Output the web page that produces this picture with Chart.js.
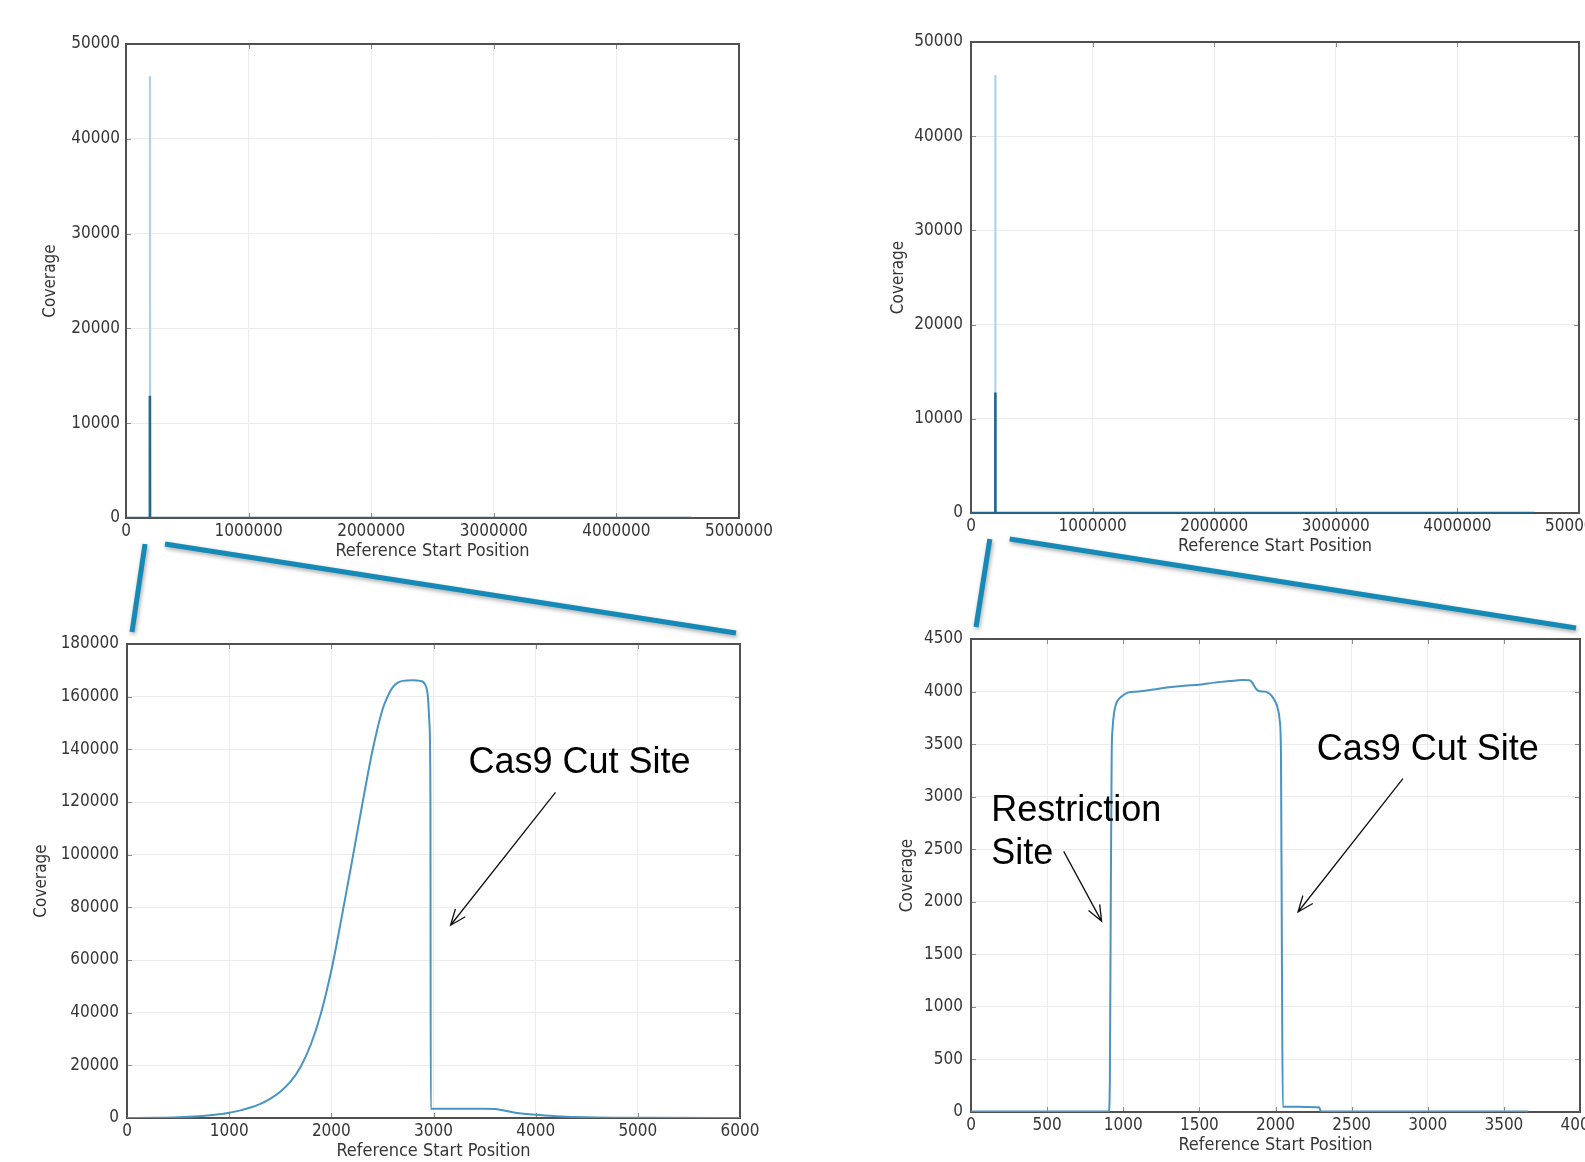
<!DOCTYPE html>
<html><head><meta charset="utf-8">
<script src="https://cdn.jsdelivr.net/npm/chart.js@4.4.1/dist/chart.umd.min.js"></script>
<style>
html,body{margin:0;padding:0;width:1585px;height:1162px;overflow:hidden;background:#fff;}
canvas{position:absolute;display:block;}
</style></head><body>
<canvas id="c1"></canvas><canvas id="c2"></canvas><canvas id="c3"></canvas><canvas id="c4"></canvas>
<canvas id="overlay" width="1585" height="1162" style="left:0;top:0;pointer-events:none"></canvas>
<script>
// ---------------- DATA ----------------
// Genome-wide tick labels (top panels)
const genomeTicksX = [0, 1000000, 2000000, 3000000, 4000000, 5000000];
const genomeTickLabelsX = ['0', '1000000', '2000000', '3000000', '4000000', '5000000'];
const genomeTicksY = [0, 10000, 20000, 30000, 40000, 50000];
const genomeTickLabelsY = ['0', '10000', '20000', '30000', '40000', '50000'];

// Top-left: genome-wide coverage (Cas9 only)
const leftGenomePos   = [0, 194000, 195000, 196000, 4615000];
const leftGenomePeak  = [0, 0, 46600, 0, 0];
const leftGenomeDense = [0, 0, 12900, 0, 0];

// Top-right: genome-wide coverage (restriction + Cas9)
const rightGenomePos   = [0, 199000, 200000, 201000, 4630000];
const rightGenomePeak  = [0, 0, 46500, 0, 0];
const rightGenomeDense = [0, 0, 12800, 0, 0];

// Bottom-left: zoomed coverage, Cas9 cut site
const cas9Pos = [0, 300, 500, 700, 900, 1000, 1100, 1200, 1300, 1400, 1500, 1600, 1700, 1800, 1900, 2000,
  2100, 2200, 2300, 2400, 2500, 2550, 2600, 2650, 2700, 2800, 2870, 2920, 2945, 2960, 2970, 2973,
  3300, 3500, 3600, 3800, 4000, 4200, 4500, 5000, 6000];
const cas9Cov = [0, 100, 300, 700, 1400, 2000, 2800, 3900, 5300, 7300, 10000, 13800, 19500, 28000, 40000, 56000,
  76000, 97000, 118500, 139000, 155000, 160000, 163500, 165300, 166000, 166200, 166000, 164500, 160000, 150000, 120000, 3500,
  3500, 3500, 3400, 2000, 1200, 700, 250, 50, 0];
const cas9TicksX = [0, 1000, 2000, 3000, 4000, 5000, 6000];
const cas9TickLabelsX = ['0', '1000', '2000', '3000', '4000', '5000', '6000'];
const cas9TicksY = [0, 20000, 40000, 60000, 80000, 100000, 120000, 140000, 160000, 180000];
const cas9TickLabelsY = ['0', '20000', '40000', '60000', '80000', '100000', '120000', '140000', '160000', '180000'];

// Bottom-right: zoomed coverage, restriction site + Cas9 cut site
const rsPos = [0, 905, 912, 918, 924, 930, 940, 955, 975, 1000, 1030, 1100, 1200, 1300, 1400, 1500, 1600, 1700,
  1780, 1830, 1850, 1870, 1890, 1920, 1950, 1975, 2000, 2015, 2028, 2036, 2042, 2048, 2100, 2200, 2285, 2300, 3000, 3660];
const rsCov = [5, 5, 300, 2000, 3400, 3650, 3800, 3890, 3935, 3965, 3990, 4000, 4020, 4040, 4055, 4065, 4085, 4100,
  4110, 4108, 4080, 4030, 4005, 4000, 3990, 3960, 3900, 3840, 3720, 3400, 1500, 50, 50, 48, 45, 5, 5, 5];
const rsTicksX = [0, 500, 1000, 1500, 2000, 2500, 3000, 3500, 4000];
const rsTickLabelsX = ['0', '500', '1000', '1500', '2000', '2500', '3000', '3500', '4000'];
const rsTicksY = [0, 500, 1000, 1500, 2000, 2500, 3000, 3500, 4000, 4500];
const rsTickLabelsY = ['0', '500', '1000', '1500', '2000', '2500', '3000', '3500', '4000', '4500'];

const xTitle = 'Reference Start Position';
const yTitle = 'Coverage';

// ---------------- STYLE / LAYOUT ----------------
const TICK_FONT = {family: "'DejaVu Sans Condensed','DejaVu Sans',sans-serif", size: 17};
const TITLE_FONT = {family: "'DejaVu Sans Condensed','DejaVu Sans',sans-serif", size: 18};
const TEXT_COLOR = '#363636';
const NOTE_FONT = "36px 'Liberation Sans', Arial, sans-serif";
const YW = 100, XH = 45, PT = 30, PR = 40;

const framePlugin = {
  id: 'frame',
  beforeDatasetsDraw(chart) {
    const {ctx, chartArea: a, scales: {x, y}} = chart;
    ctx.save();
    ctx.strokeStyle = '#8a8a8a'; ctx.lineWidth = 1;
    ctx.beginPath();
    x.ticks.forEach(t => {
      const p = Math.round(x.getPixelForValue(t.value)) + 0.5;
      ctx.moveTo(p, a.bottom); ctx.lineTo(p, a.bottom - 5);
      ctx.moveTo(p, a.top); ctx.lineTo(p, a.top + 5);
    });
    y.ticks.forEach(t => {
      const p = Math.round(y.getPixelForValue(t.value)) + 0.5;
      ctx.moveTo(a.left, p); ctx.lineTo(a.left + 5, p);
      ctx.moveTo(a.right, p); ctx.lineTo(a.right - 5, p);
    });
    ctx.stroke();
    ctx.strokeStyle = '#505050'; ctx.lineWidth = 2;
    ctx.strokeRect(a.left, a.top, a.right - a.left, a.bottom - a.top);
    ctx.restore();
  }
};

function arrow(ctx, x1, y1, x2, y2) {
  const ang = Math.atan2(y2 - y1, x2 - x1), L = 17, h = 0.38;
  ctx.beginPath();
  ctx.moveTo(x1, y1); ctx.lineTo(x2, y2);
  ctx.moveTo(x2 - L * Math.cos(ang - h), y2 - L * Math.sin(ang - h));
  ctx.lineTo(x2, y2);
  ctx.lineTo(x2 - L * Math.cos(ang + h), y2 - L * Math.sin(ang + h));
  ctx.stroke();
}

const notesPlugin = {
  id: 'notes',
  afterDraw(chart, args, opts) {
    if (!opts || !opts.items) return;
    const {ctx, scales: {x, y}} = chart;
    ctx.save();
    ctx.fillStyle = '#000'; ctx.strokeStyle = '#111'; ctx.lineWidth = 1.3;
    ctx.font = NOTE_FONT; ctx.textAlign = 'left'; ctx.textBaseline = 'alphabetic';
    opts.items.forEach(it => {
      if (it.text) ctx.fillText(it.text, x.getPixelForValue(it.at[0]), y.getPixelForValue(it.at[1]));
      if (it.from) arrow(ctx, x.getPixelForValue(it.from[0]), y.getPixelForValue(it.from[1]),
                              x.getPixelForValue(it.to[0]), y.getPixelForValue(it.to[1]));
    });
    ctx.restore();
  }
};

function xy(xs, ys) { return xs.map((v, i) => ({x: v, y: ys[i]})); }

function makeChart(id, area, o) {
  const cv = document.getElementById(id);
  cv.width = (area.R - area.L) + YW + PR;
  cv.height = (area.B - area.T) + PT + XH;
  cv.style.left = (area.L - YW) + 'px';
  cv.style.top = (area.T - PT) + 'px';
  const chart = new Chart(cv, {
    type: 'line',
    data: {datasets: o.datasets},
    options: {
      responsive: false, animation: false, devicePixelRatio: 1,
      layout: {padding: {left: 0, top: PT, right: PR, bottom: 0}},
      plugins: {legend: {display: false}, tooltip: {enabled: false}, notes: {items: o.notes || []}},
      elements: {point: {radius: 0}},
      scales: {
        x: {
          type: 'linear', min: o.xTicks[0], max: o.xTicks[o.xTicks.length - 1],
          afterBuildTicks: s => { s.ticks = o.xTicks.map(v => ({value: v})); },
          afterFit: s => { s.height = XH; },
          ticks: {autoSkip: false, maxRotation: 0, padding: 3, font: TICK_FONT, color: TEXT_COLOR,
                  callback: (v, i) => o.xLabels[i]},
          grid: {color: '#ececec', lineWidth: 1, drawTicks: false},
          border: {display: false},
          title: {display: true, text: xTitle, font: TITLE_FONT, color: TEXT_COLOR, padding: {top: 0, bottom: 0.6}}
        },
        y: {
          type: 'linear', min: o.yTicks[0], max: o.yTicks[o.yTicks.length - 1],
          afterBuildTicks: s => { s.ticks = o.yTicks.map(v => ({value: v})); },
          afterFit: s => { s.width = YW; },
          ticks: {autoSkip: false, padding: o.yPad, font: TICK_FONT, color: TEXT_COLOR,
                  callback: (v, i) => o.yLabels[i]},
          grid: {color: '#ececec', lineWidth: 1, drawTicks: false},
          border: {display: false},
          title: {display: true, text: yTitle, font: TICK_FONT, color: TEXT_COLOR, padding: {top: o.yTitlePad, bottom: 0}}
        }
      }
    },
    plugins: [framePlugin, notesPlugin]
  });
  return chart;
}

const DARK = '#23678e', LIGHT = '#a6d3ec', CURVE = '#4894c2';

const ch1 = makeChart('c1', {L: 126, T: 44, R: 739, B: 518}, {
  datasets: [
    {data: xy(leftGenomePos, leftGenomeDense), borderColor: DARK, borderWidth: 2.6, tension: 0},
    {data: xy(leftGenomePos, leftGenomePeak), borderColor: LIGHT, borderWidth: 2, tension: 0}
  ],
  xTicks: genomeTicksX, xLabels: genomeTickLabelsX, yTicks: genomeTicksY, yLabels: genomeTickLabelsY,
  yPad: 6, yTitlePad: 14.8
});
const ch2 = makeChart('c2', {L: 971, T: 42, R: 1579, B: 513}, {
  datasets: [
    {data: xy(rightGenomePos, rightGenomeDense), borderColor: DARK, borderWidth: 2.6, tension: 0},
    {data: xy(rightGenomePos, rightGenomePeak), borderColor: LIGHT, borderWidth: 2, tension: 0}
  ],
  xTicks: genomeTicksX, xLabels: genomeTickLabelsX, yTicks: genomeTicksY, yLabels: genomeTickLabelsY,
  yPad: 8, yTitlePad: 17.8
});
const ch3 = makeChart('c3', {L: 127, T: 644, R: 740, B: 1118}, {
  datasets: [
    {data: xy(cas9Pos, cas9Cov), borderColor: CURVE, borderWidth: 2, cubicInterpolationMode: 'monotone'}
  ],
  xTicks: cas9TicksX, xLabels: cas9TickLabelsX, yTicks: cas9TicksY, yLabels: cas9TickLabelsY,
  yPad: 8, yTitlePad: 4.8,
  notes: [
    {text: 'Cas9 Cut Site', at: [3342, 131000]},
    {from: [4194, 123650], to: [3167, 73200]}
  ]
});
const ch4 = makeChart('c4', {L: 971, T: 639, R: 1580, B: 1112}, {
  datasets: [
    {data: xy(rsPos, rsCov), borderColor: CURVE, borderWidth: 2, cubicInterpolationMode: 'monotone'}
  ],
  xTicks: rsTicksX, xLabels: rsTickLabelsX, yTicks: rsTicksY, yLabels: rsTickLabelsY,
  yPad: 8, yTitlePad: 26.8,
  notes: [
    {text: 'Cas9 Cut Site', at: [2271, 3349]},
    {from: [2837, 3171], to: [2148, 1903]},
    {text: 'Restriction', at: [133, 2771]},
    {text: 'Site', at: [133, 2357]},
    {from: [609, 2480], to: [858, 1814]}
  ]
});

// ---------------- zoom callout lines ----------------
function absArea(ch) {
  const l = parseFloat(ch.canvas.style.left), t = parseFloat(ch.canvas.style.top);
  const a = ch.chartArea;
  return {l, t, left: l + a.left, right: l + a.right, top: t + a.top, bottom: t + a.bottom};
}
const zoomWindow = [155000, 318000];
function callout(ctx, top, bottom) {
  const A = absArea(top), B = absArea(bottom);
  const x1 = A.l + top.scales.x.getPixelForValue(zoomWindow[0]);
  const x2 = A.l + top.scales.x.getPixelForValue(zoomWindow[1]);
  ctx.save();
  ctx.strokeStyle = '#168ab6'; ctx.lineWidth = 5; ctx.lineCap = 'butt';
  ctx.shadowColor = 'rgba(0,0,0,0.35)'; ctx.shadowBlur = 4; ctx.shadowOffsetX = 1; ctx.shadowOffsetY = 2;
  ctx.beginPath(); ctx.moveTo(x1, A.bottom + 26); ctx.lineTo(B.left + 5, B.top - 12); ctx.stroke();
  ctx.beginPath(); ctx.moveTo(x2, A.bottom + 26); ctx.lineTo(B.right - 4, B.top - 11); ctx.stroke();
  ctx.restore();
}
const octx = document.getElementById('overlay').getContext('2d');
callout(octx, ch1, ch3);
callout(octx, ch2, ch4);
</script>
</body></html>
